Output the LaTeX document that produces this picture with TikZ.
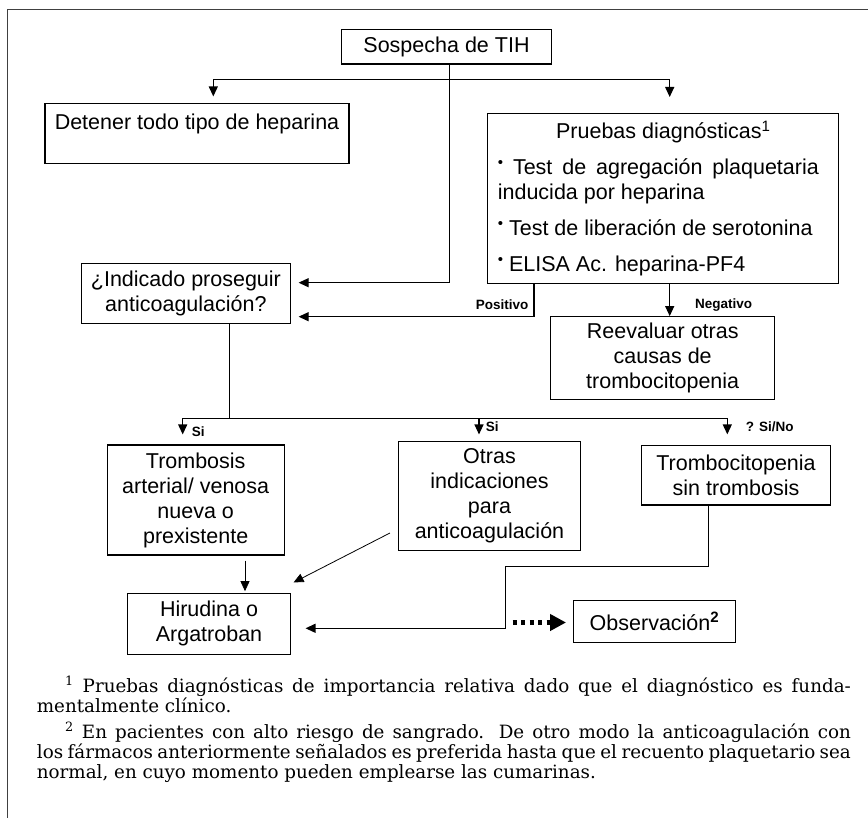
\documentclass[tikz,border=0pt]{standalone}
\usepackage{fontspec}
\setmainfont{Liberation Sans}
\newfontfamily\notefont{DejaVu Serif}
\usetikzlibrary{arrows.meta, positioning}

\begin{document}
\begin{tikzpicture}[x=1pt, y=-1pt,
        every edge/.style={draw=black, line width=1.2pt, -{Triangle[width=9pt,length=10pt]}},
        box/.style={draw=black, line width=1.1pt, align=center, inner sep=0pt, font=\boxfont},
        tag/.style={font=\tagfont, inner sep=0pt, anchor=west},
        thinline/.style={line width=0.8pt},
        thickline/.style={line width=1.2pt},
        dotarrow/.style={line width=5pt, dash pattern=on 4pt off 4.5pt, -{Triangle[width=16pt,length=16pt]}},]

        \newcommand\boxfont{\fontsize{21.5}{25}\selectfont}
        \newcommand\tagfont{\fontsize{13.5}{13.5}\selectfont\bfseries}
        \newcommand\dotitem{\raisebox{0.36em}{\fontsize{15}{15}\selectfont\textbullet}\ }

        \useasboundingbox (0,0) rectangle (868,818);
        \draw [draw=black!75, line width=1.6pt] (868,9.5) -- (7.5,9.5) -- (7.5,818);

        \node[box, minimum width=209.6pt, minimum height=34.7pt] (sospecha) at (446.5,46.7) {Sospecha de TIH};
        \node[box, minimum width=304pt, minimum height=60pt, text height=15.4pt, text depth=22pt] (detener) at (197,133.3) {Detener todo tipo de heparina};
        \node[box, anchor=north west, text width=331pt, inner xsep=10pt, inner ysep=0pt, minimum height=169.4pt, align=justify] (pruebas) at (487.3,113.3) {\parindent=0pt \parskip=11pt
            {\centering Pruebas diagnósticas\textsuperscript{1}\par}
            {\rightskip=10pt \dotitem Test de agregación plaquetaria\linebreak inducida por heparina\par}
            \dotitem Test de liberación de serotonina\par
            \dotitem ELISA Ac. heparina-PF4};
        \node[box, minimum width=209.7pt, minimum height=60pt] (indicado) at (185.9,293.3) {¿Indicado proseguir\\anticoagulación?};
        \node[box, minimum width=224pt, minimum height=83.3pt] (reeval) at (662.7,358.3) {Reevaluar otras\\causas de\\trombocitopenia};
        \node[box, minimum width=176.7pt, minimum height=110pt] (trombosis) at (195.7,500) {Trombosis\\arterial/ venosa\\nueva o\\prexistente};
        \node[box, minimum width=182.4pt, minimum height=109pt] (otras) at (489.5,496.2) {Otras\\indicaciones\\para\\anticoagulación};
        \node[box, minimum width=189.4pt, minimum height=59.3pt] (tromboc) at (736,475.3) {Trombocitopenia\\sin trombosis};
        \node[box, minimum width=162.6pt, minimum height=61pt] (hirudina) at (209,623.8) {Hirudina o\\Argatroban};
        \node[box, minimum width=162.4pt, minimum height=41.6pt] (observ) at (654.5,621.5) {Observación\textsuperscript{\textbf{2}}};

        \node[tag] (lpos) at (475.7,305) {Positivo};
        \node[tag] (lneg) at (695,305) {Negativo};
        \node[tag] (lsi1) at (191.7,432) {Si};
        \node[tag] (lsi2) at (485.7,426.7) {Si};
        \node[tag] (lsino) at (745.7,427) {? Si/No};

        \coordinate (trunk) at (449.7,282.7);
        \coordinate (brL) at (213.3,79.3);
        \coordinate (brR) at (669.7,79.3);
        \coordinate (pos) at (534,316.7);
        \coordinate (si) at (229.3,418.3);
        \coordinate (siL) at (182.7,418.3);
        \coordinate (siM) at (479,418.3);
        \coordinate (siR) at (727.3,418.3);
        \coordinate (bendA) at (505.7,566.7);
        \coordinate (bendB) at (505.7,628.3);
        \coordinate (obs) at (512.7,622.5);

        \draw[thinline] ([xshift=3.2pt]sospecha.south) -- (trunk);
        \draw[thickline] (brL) -- (brR);
        \path (trunk) edge [shorten >=7.3pt] (indicado.east |- trunk);
        \path (brL) edge [shorten >=6.3pt] (brL |- detener.north);
        \path (brR) edge [shorten >=16.3pt] (brR |- pruebas.north);

        \draw[thickline] (pruebas.south -| pos) -- (pos);
        \path (pos) edge [shorten >=7.3pt] (indicado.east |- pos);
        \path (pruebas.south -| brR) edge [] (reeval.north -| brR);

        \draw[thinline] (indicado.south -| si) -- (si);
        \draw[thickline] (siL) -- (siR);
        \path (siL) edge [shorten >=10pt] (siL |- trombosis.north);
        \path (siM) edge [shorten >=6.7pt] (siM |- otras.north);
        \path (siR) edge [shorten >=10.7pt] (siR |- tromboc.north);

        \path ([xshift=49.3pt, yshift=-5pt]trombosis.south) edge [thinline, shorten >=1.6pt] ([xshift=36pt]hirudina.north);
        \path ([xshift=-7.8pt, yshift=-36.8pt]otras.west) edge [thinline] ([xshift=2.7pt, yshift=10.3pt]hirudina.north east);
        \draw[thickline] ([xshift=-27.7pt]tromboc.south) |- (bendA) -- (bendB);
        \path (bendB) edge [shorten >=14.7pt] (hirudina.east |- bendB);
        \path (obs) edge [dotarrow, shorten >=6.7pt] (observ.west |- obs);

        \node[anchor=base west, inner sep=0pt] (notes) at (36.7,692) {\parbox[t]{814pt}{\notefont\fontsize{18.3}{20}\selectfont
            \parindent=28.3pt \parskip=6pt \hyphenpenalty=10000
            \textsuperscript{1} Pruebas diagnósticas de importancia relativa dado que el diagnóstico es funda-\linebreak mentalmente clínico.\par
            \textsuperscript{2} En pacientes con alto riesgo de sangrado. De otro modo la anticoagulación con\linebreak los fármacos anteriormente señalados es preferida hasta que el recuento plaquetario sea\linebreak normal, en cuyo momento pueden emplearse las cumarinas.}};

    \end{tikzpicture}
\end{document}
